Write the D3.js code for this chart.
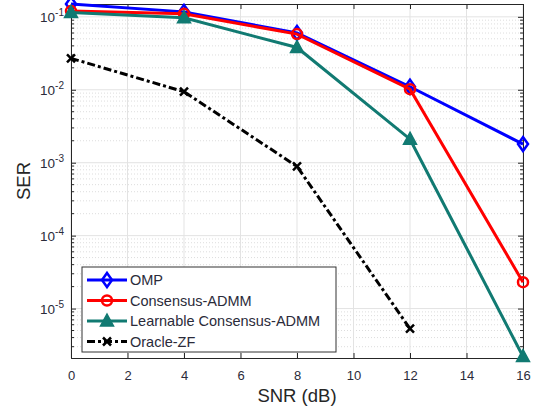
<!DOCTYPE html>
<html>
<head>
<meta charset="utf-8">
<script src="https://cdn.jsdelivr.net/npm/d3@7"></script>
<style>
  html, body { margin: 0; padding: 0; background: #fff; }
  svg { display: block; font-family: "Liberation Sans", Arial, sans-serif; }
</style>
</head>
<body>
<svg id="chart" width="542" height="414"></svg>
<script>
// Chart data
const snr = [0, 4, 8, 12, 16];
const omp = [0.15, 0.117, 0.06, 0.011, 0.0018];
const admm = [0.12, 0.11, 0.058, 0.0102, 2.3e-5];
const learnable = [0.115, 0.097, 0.038, 0.0021, 2.2e-6];
const oracleSnr = [0, 4, 8, 12];
const oracle = [0.027, 0.0094, 0.00089, 5.3e-6];
const xTicks = [0, 2, 4, 6, 8, 10, 12, 14, 16];
const yTicks = [1e-5, 1e-4, 1e-3, 1e-2, 1e-1];

const svg = d3.select("#chart");
const margin = {left: 71, right: 19, top: 4, bottom: 56};
const W = 542, H = 414;
const plotW = W - margin.left - margin.right;
const plotH = H - margin.top - margin.bottom;
const textColor = "#2b2b3a";

const x = d3.scaleLinear().domain([0, 16]).range([margin.left, margin.left + plotW]);
const y = d3.scaleLog().domain([2.1e-6, 0.15]).range([margin.top + plotH, margin.top]);

// minor ticks on log axis
const minor = [];
for (let e = -6; e <= -1; e++) {
    for (let m = 2; m <= 9; m++) {
        const v = m * Math.pow(10, e);
        if (v >= 2.1e-6 && v <= 0.15) minor.push(v);
    }
}

const grid = svg.append("g");
grid.selectAll("line.minor").data(minor).join("line")
    .attr("x1", margin.left).attr("x2", margin.left + plotW)
    .attr("y1", d => y(d)).attr("y2", d => y(d))
    .attr("stroke", "#dddddd").attr("stroke-width", 1).attr("stroke-dasharray", "1,2");
grid.selectAll("line.ymaj").data(yTicks).join("line")
    .attr("x1", margin.left).attr("x2", margin.left + plotW)
    .attr("y1", d => y(d)).attr("y2", d => y(d))
    .attr("stroke", "#e3e3e3").attr("stroke-width", 1);
grid.selectAll("line.xmaj").data(xTicks).join("line")
    .attr("y1", margin.top).attr("y2", margin.top + plotH)
    .attr("x1", d => x(d)).attr("x2", d => x(d))
    .attr("stroke", "#e3e3e3").attr("stroke-width", 1);

// axes (ticks inside)
const xAxisB = d3.axisBottom(x).tickValues(xTicks).tickSize(-5).tickPadding(13);
const xAxisT = d3.axisTop(x).tickValues(xTicks).tickSize(-5).tickFormat("");
const yAxisL = d3.axisLeft(y).tickValues(yTicks).tickSize(-5).tickFormat("");
const yAxisR = d3.axisRight(y).tickValues(yTicks).tickSize(-5).tickFormat("");

function styleAxis(g) {
    g.select(".domain").attr("stroke", "#262626");
    g.selectAll(".tick line").attr("stroke", "#262626");
    g.selectAll(".tick text").attr("fill", textColor).attr("font-size", 13)
        .attr("font-family", "Liberation Sans, Arial, sans-serif");
}
svg.append("g").attr("transform", `translate(0,${margin.top + plotH})`).call(xAxisB).call(styleAxis);
svg.append("g").attr("transform", `translate(0,${margin.top})`).call(xAxisT).call(styleAxis);
svg.append("g").attr("transform", `translate(${margin.left},0)`).call(yAxisL).call(styleAxis);
svg.append("g").attr("transform", `translate(${margin.left + plotW},0)`).call(yAxisR).call(styleAxis);

// minor y ticks on both sides
const mt = svg.append("g");
mt.selectAll("line.ml").data(minor).join("line")
    .attr("x1", margin.left).attr("x2", margin.left + 3)
    .attr("y1", d => y(d)).attr("y2", d => y(d)).attr("stroke", "#262626");
mt.selectAll("line.mr").data(minor).join("line")
    .attr("x1", margin.left + plotW - 3).attr("x2", margin.left + plotW)
    .attr("y1", d => y(d)).attr("y2", d => y(d)).attr("stroke", "#262626");

// y tick labels as 10^n
const yl = svg.append("g");
yTicks.forEach(v => {
    const t = yl.append("text").attr("x", margin.left - 7).attr("y", y(v) + 5)
        .attr("text-anchor", "end").attr("fill", textColor).attr("font-size", 13.5);
    t.append("tspan").text("10");
    t.append("tspan").attr("dy", -6).attr("font-size", 10).text(String(Math.round(Math.log10(v))));
});

// axis labels
svg.append("text").attr("x", margin.left + plotW / 2).attr("y", 402)
    .attr("text-anchor", "middle").attr("font-size", 18.5).attr("fill", "#262626").text("SNR (dB)");
svg.append("text").attr("transform", `translate(30,${margin.top + plotH / 2}) rotate(-90)`)
    .attr("text-anchor", "middle").attr("font-size", 18.5).attr("fill", "#262626").text("SER");

// series
const series = [
    {name: "OMP", xs: snr, ys: omp, color: "#0000ff", marker: "diamond", dash: null},
    {name: "Consensus-ADMM", xs: snr, ys: admm, color: "#ff0000", marker: "circle", dash: null},
    {name: "Learnable Consensus-ADMM", xs: snr, ys: learnable, color: "#117a72", marker: "triangle", dash: null},
    {name: "Oracle-ZF", xs: oracleSnr, ys: oracle, color: "#000000", marker: "cross", dash: "8,3,3,3"}
];

const line = d3.line().x(d => x(d[0])).y(d => y(d[1]));

function drawMarker(g, mx, my, s) {
    if (s.marker === "diamond") {
        g.append("path").attr("d", `M${mx},${my - 7}L${mx + 5},${my}L${mx},${my + 7}L${mx - 5},${my}Z`)
            .attr("fill", "none").attr("stroke", s.color).attr("stroke-width", 2.5);
    } else if (s.marker === "circle") {
        g.append("circle").attr("cx", mx).attr("cy", my).attr("r", 5)
            .attr("fill", "none").attr("stroke", s.color).attr("stroke-width", 2.5);
    } else if (s.marker === "triangle") {
        g.append("path").attr("d", `M${mx},${my - 7}L${mx + 6.5},${my + 5}L${mx - 6.5},${my + 5}Z`)
            .attr("fill", s.color).attr("stroke", s.color).attr("stroke-width", 1.5);
    } else {
        g.append("path").attr("d", `M${mx - 4},${my - 4}L${mx + 4},${my + 4}M${mx - 4},${my + 4}L${mx + 4},${my - 4}`)
            .attr("stroke", s.color).attr("stroke-width", 2.5);
    }
}

const plot = svg.append("g");
series.forEach(s => {
    const pts = s.xs.map((v, i) => [v, s.ys[i]]);
    plot.append("path").datum(pts).attr("d", line)
        .attr("fill", "none").attr("stroke", s.color).attr("stroke-width", 3)
        .attr("stroke-dasharray", s.dash);
    pts.forEach(p => drawMarker(plot, x(p[0]), y(p[1]), s));
});

// legend
const lg = svg.append("g");
const lx = 82, ly = 267, lw = 254, lh = 85;
lg.append("rect").attr("x", lx).attr("y", ly).attr("width", lw).attr("height", lh)
    .attr("fill", "#fff").attr("stroke", "#333").attr("stroke-width", 1);
series.forEach((s, i) => {
    const ry = ly + 13 + i * 20.5;
    lg.append("line").attr("x1", lx + 5).attr("x2", lx + 45).attr("y1", ry).attr("y2", ry)
        .attr("stroke", s.color).attr("stroke-width", 3).attr("stroke-dasharray", s.dash);
    drawMarker(lg, lx + 25, ry, s);
    lg.append("text").attr("x", lx + 48).attr("y", ry + 5).attr("font-size", 14.5)
        .attr("fill", textColor).text(s.name);
});
</script>
</body>
</html>
